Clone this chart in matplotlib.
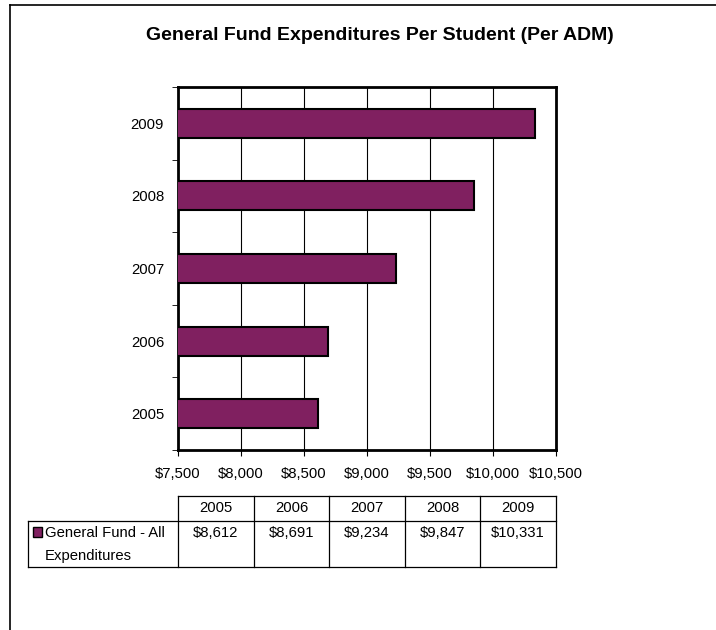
import matplotlib
matplotlib.use('Agg')
import matplotlib.pyplot as plt
from matplotlib.lines import Line2D
from matplotlib.patches import Rectangle
import numpy as np

plt.rcParams['font.family'] = ['Liberation Sans', 'DejaVu Sans']

years = ['2005', '2006', '2007', '2008', '2009']
spending = [8612, 8691, 9234, 9847, 10331]
series_name = 'General Fund - All\nExpenditures'
title = 'General Fund Expenditures Per Student (Per ADM)'
bar_color = '#802060'
fs = 10.7

W, H = 716, 630
fig = plt.figure(figsize=(W / 100, H / 100), dpi=100)

def box(x0, y0, x1, y1):
    # pixel box (top-left origin) -> figure fraction rect
    return [x0 / W, 1 - y1 / H, (x1 - x0) / W, (y1 - y0) / H]

# outer chart frame (only left and top edges visible)
fig.add_artist(Line2D([10 / W, 10 / W], [0, 1 - 5 / H], transform=fig.transFigure, color='black', lw=1.2))
fig.add_artist(Line2D([10 / W, 1], [1 - 5 / H, 1 - 5 / H], transform=fig.transFigure, color='black', lw=1.2))

fig.text(380 / W, 1 - 36 / H, title, ha='center', va='center', fontsize=14, fontweight='bold')

ax = fig.add_axes(box(178, 87, 556, 450))
pos = np.arange(len(years))
ax.barh(pos, spending, height=0.4, left=0, color=bar_color, edgecolor='black', linewidth=1.5, zorder=3)
ax.set_xlim(7500, 10500)
ax.set_ylim(-0.5, len(years) - 0.5)
ax.set_xticks(np.arange(7500, 10501, 500))
ax.set_xticklabels(['${:,}'.format(v) for v in range(7500, 10501, 500)], fontsize=fs)
ax.set_yticks(pos)
ax.set_yticklabels(years, fontsize=fs)
ax.set_yticks(np.arange(-0.5, len(years), 1), minor=True)
ax.tick_params(axis='y', which='major', length=0, pad=10)
ax.tick_params(axis='y', which='minor', length=4, direction='out')
ax.tick_params(axis='x', length=4, direction='out', pad=8)
ax.grid(axis='x', color='black', linewidth=0.8, zorder=1)
for s in ax.spines.values():
    s.set_linewidth(2)

# data table under the chart, drawn in pixel coordinates
tx = fig.add_axes(box(20, 490, 560, 575))
tx.set_xlim(20, 560)
tx.set_ylim(575, 490)
tx.axis('off')
col_w = (556 - 178) / len(years)
edges = [178 + i * col_w for i in range(len(years) + 1)]
y_top, y_mid, y_bot = 496, 521, 567
lw = 0.9
tx.plot([178, 556], [y_top, y_top], color='black', lw=lw)
tx.plot([28, 556], [y_mid, y_mid], color='black', lw=lw)
tx.plot([28, 556], [y_bot, y_bot], color='black', lw=lw)
tx.plot([28, 28], [y_mid, y_bot], color='black', lw=lw)
for e in edges:
    tx.plot([e, e], [y_top, y_bot], color='black', lw=lw)
for i, (yr, v) in enumerate(zip(years, spending)):
    cx = (edges[i] + edges[i + 1]) / 2
    tx.text(cx, (y_top + y_mid) / 2, yr, ha='center', va='center', fontsize=fs)
    tx.text(cx, 533, '${:,}'.format(v), ha='center', va='center', fontsize=fs)
tx.add_patch(Rectangle((33, 527), 9, 10, facecolor=bar_color, edgecolor='black', lw=1))
tx.text(45, 533, series_name.split('\n')[0], ha='left', va='center', fontsize=fs)
tx.text(45, 556, series_name.split('\n')[1], ha='left', va='center', fontsize=fs)

fig.savefig('out.png', dpi=100)
